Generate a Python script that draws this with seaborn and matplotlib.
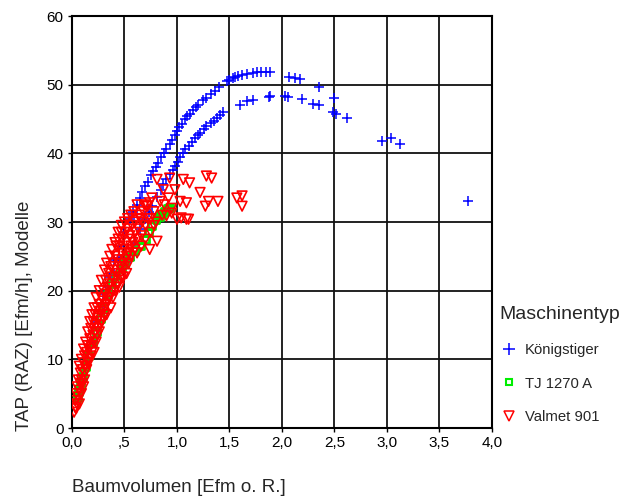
import matplotlib
matplotlib.use("Agg")
import matplotlib.pyplot as plt
from matplotlib.lines import Line2D
import seaborn as sns

# Königstiger (upper arc, lower arc, tail, points inside the dense band)
koenig_x = [0.30, 0.35, 0.40, 0.45, 0.50, 0.55, 0.58, 0.62, 0.65, 0.67, 0.70, 0.72, 0.75, 0.77,
            0.80, 0.82, 0.85, 0.88, 0.90, 0.93, 0.95, 0.98, 1.00, 1.02, 1.05, 1.08, 1.10, 1.12,
            1.15, 1.18, 1.20, 1.25, 1.28, 1.32, 1.36, 1.40, 1.48, 1.50, 1.53, 1.55, 1.58, 1.62,
            1.67, 1.72, 1.76, 1.80, 1.85, 1.89,
            2.07, 2.12, 2.17, 2.35, 2.50, 2.49, 2.51, 2.62, 2.95, 3.04, 3.12, 3.77,
            0.55, 0.60, 0.65, 0.70, 0.73, 0.76, 0.81, 0.85, 0.87, 0.90, 0.93, 0.96, 0.98, 1.01,
            1.03, 1.06, 1.08, 1.11, 1.14, 1.17, 1.20, 1.22, 1.26, 1.28, 1.32, 1.35, 1.38, 1.41,
            1.44, 1.60, 1.67, 1.72, 1.88, 1.89, 2.03, 2.06, 2.19, 2.30, 2.35,
            0.10, 0.15, 0.20, 0.25, 0.30, 0.35, 0.40, 0.45]
koenig_y = [19.5, 22.0, 24.5, 26.5, 28.5, 30.5, 31.5, 32.5, 33.5, 34.3, 35.2, 35.8, 36.8, 37.4,
            38.0, 38.6, 39.4, 40.0, 40.6, 41.3, 42.0, 42.6, 43.3, 43.8, 44.3, 45.0, 45.4, 45.8,
            46.3, 46.8, 47.1, 47.7, 48.1, 48.6, 49.1, 49.7, 50.5, 50.7, 50.9, 51.1, 51.2, 51.4,
            51.6, 51.7, 51.8, 51.8, 51.8, 51.8,
            51.1, 51.0, 50.8, 49.6, 48.1, 46.0, 45.8, 45.1, 41.8, 42.2, 41.4, 33.0,
            24.5, 27.0, 29.0, 30.5, 31.5, 32.3, 33.7, 34.7, 35.6, 36.2, 37.0, 37.6, 38.2, 38.8,
            39.5, 40.1, 40.7, 41.1, 41.7, 42.3, 42.7, 43.0, 43.6, 44.0, 44.4, 44.7, 45.2, 45.6,
            46.0, 47.0, 47.6, 47.8, 48.2, 48.4, 48.3, 48.2, 47.9, 47.2, 47.0,
            7.0, 10.0, 12.5, 15.5, 18.0, 20.5, 22.5, 24.8]

tj_x = [0.05, 0.06, 0.08, 0.10, 0.13, 0.16, 0.20, 0.23, 0.27, 0.30, 0.34, 0.38, 0.42, 0.47,
        0.50, 0.55, 0.60, 0.65, 0.70, 0.73, 0.76, 0.80, 0.83, 0.85, 0.88, 0.91, 0.93]
tj_y = [4.5, 5.3, 6.5, 7.5, 9.0, 10.5, 12.4, 14.0, 16.0, 17.5, 19.5, 21.0, 22.2, 23.3,
        24.0, 25.0, 25.8, 26.5, 27.5, 28.5, 29.5, 30.3, 30.8, 31.1, 31.5, 32.0, 32.1]

valmet_x = [0.02, 0.03, 0.03, 0.04, 0.04, 0.05, 0.05, 0.06, 0.06, 0.07, 0.08, 0.08, 0.09, 0.10,
            0.10, 0.11, 0.12, 0.12, 0.13, 0.14, 0.15, 0.15, 0.16, 0.17, 0.18, 0.18, 0.19, 0.20,
            0.20, 0.21, 0.22, 0.22, 0.23, 0.24, 0.25, 0.25, 0.26, 0.27, 0.28, 0.28, 0.29, 0.30,
            0.30, 0.31, 0.32, 0.32, 0.33, 0.34, 0.35, 0.35, 0.36, 0.37, 0.38, 0.38, 0.39, 0.40,
            0.40, 0.41, 0.42, 0.43, 0.44, 0.45, 0.45, 0.46, 0.47, 0.48, 0.48, 0.49, 0.50, 0.50,
            0.51, 0.52, 0.53, 0.54, 0.55, 0.56, 0.57, 0.58, 0.60, 0.60, 0.62, 0.63, 0.65, 0.66,
            0.68, 0.70, 0.72, 0.74, 0.75, 0.78, 0.81, 0.81, 0.84, 0.87, 0.90, 0.93, 0.95, 0.98,
            1.00, 1.03, 1.04, 1.06, 1.09, 1.09, 1.11, 1.12, 1.22, 1.27, 1.28, 1.30, 1.33, 1.39,
            1.57, 1.62, 1.62, 0.71, 0.74, 0.65, 0.44, 0.42, 0.47, 0.52, 0.57, 0.95, 0.88, 0.86,
            0.92, 0.80, 0.76,
            0.07, 0.09, 0.11, 0.12, 0.14, 0.16, 0.18, 0.21, 0.23, 0.24, 0.26, 0.27, 0.30, 0.31,
            0.33, 0.34, 0.36, 0.37, 0.39, 0.41, 0.43, 0.45, 0.47, 0.49, 0.50, 0.52, 0.54, 0.56,
            0.58, 0.60, 0.62, 0.07, 0.09, 0.11, 0.13, 0.15, 0.17, 0.19, 0.21, 0.23, 0.26, 0.28,
            0.31, 0.33, 0.36, 0.38, 0.41, 0.44, 0.47, 0.50, 0.53, 0.56, 0.59, 0.62, 0.64, 0.67,
            0.69, 0.72, 0.75, 0.78, 0.66, 0.70]
valmet_y = [2.3, 3.0, 4.0, 2.8, 5.0, 3.5, 6.0, 4.5, 7.0, 5.5, 6.5, 8.0, 7.0, 6.5,
            8.5, 9.5, 8.0, 10.5, 9.0, 11.0, 10.0, 12.0, 11.5, 13.0, 12.0, 14.5, 11.0, 13.5,
            15.5, 12.5, 14.0, 16.5, 15.0, 17.5, 14.5, 16.0, 18.0, 17.0, 19.0, 15.5, 17.5, 20.0,
            18.5, 16.5, 19.5, 21.5, 18.0, 20.5, 22.5, 19.0, 21.0, 23.5, 20.0, 22.0, 24.0, 21.5,
            23.0, 25.0, 20.5, 22.5, 24.5, 26.5, 23.5, 21.5, 25.5, 27.5, 23.0, 22.0, 26.0, 28.5,
            24.5, 27.0, 29.0, 25.5, 28.0, 26.5, 29.5, 27.0, 28.5, 30.0, 27.5, 29.0, 30.5, 28.0,
            31.5, 29.5, 32.3, 26.0, 30.5, 31.5, 27.2, 36.2, 33.0, 34.7, 30.9, 36.4, 31.3, 34.7,
            30.4, 33.0, 30.6, 36.2, 32.8, 30.4, 30.4, 35.7, 34.3, 32.3, 36.7, 33.0, 36.4, 33.0,
            33.5, 33.8, 32.3, 32.3, 32.8, 30.4, 27.5, 26.5, 28.5, 25.0, 27.5, 32.0, 32.5, 31.0,
            33.5, 30.0, 33.5,
            3.5, 5.0, 6.0, 7.0, 8.5, 9.5, 10.5, 11.0, 12.5, 13.5, 14.0, 15.0, 16.0, 17.5,
            16.5, 18.5, 19.0, 17.5, 19.0, 20.0, 21.0, 20.5, 22.0, 24.0, 23.5, 22.5, 24.0, 25.0,
            25.5, 26.0, 25.5, 9.0, 10.0, 11.5, 12.5, 14.0, 15.5, 16.5, 17.5, 19.0, 20.0, 21.5,
            23.0, 24.0, 25.0, 26.0, 27.0, 28.5, 29.5, 30.0, 30.5, 31.0, 31.5, 32.5, 31.0, 30.0,
            32.5, 30.5, 28.5, 29.5, 26.5, 27.5]

x_ticks = [0.0, 0.5, 1.0, 1.5, 2.0, 2.5, 3.0, 3.5, 4.0]
x_tick_labels = ["0,0", ",5", "1,0", "1,5", "2,0", "2,5", "3,0", "3,5", "4,0"]
y_ticks = [0, 10, 20, 30, 40, 50, 60]

sns.set_theme(style="white")
plt.rcParams["font.family"] = ["Liberation Sans", "DejaVu Sans"]

fig = plt.figure(figsize=(6.2, 5), dpi=100)
ax = fig.add_axes([0.1161, 0.144, 0.6774, 0.824])

blue, green, red = "#0000ff", "#00ee00", "#ff0000"
sns.scatterplot(x=koenig_x, y=koenig_y, ax=ax, marker="+", color=blue, s=50,
                linewidth=1.1, legend=False, zorder=3)
sns.scatterplot(x=tj_x, y=tj_y, ax=ax, marker="s", s=24, facecolors="none",
                edgecolors=green, linewidth=2.0, legend=False, zorder=4)
sns.scatterplot(x=valmet_x, y=valmet_y, ax=ax, marker="v", s=48, facecolors="none",
                edgecolors=red, linewidth=1.2, legend=False, zorder=5)

ax.set_xlim(0, 4)
ax.set_ylim(0, 60)
ax.set_xticks(x_ticks)
ax.set_xticklabels(x_tick_labels)
ax.set_yticks(y_ticks)
ax.grid(True, color="#111111", linewidth=1.3)
ax.set_axisbelow(True)
for sp in ax.spines.values():
    sp.set_color("black")
    sp.set_linewidth(1.5)
ax.tick_params(axis="both", direction="out", length=3, width=1, colors="black",
               labelsize=11, pad=3, bottom=True, left=True)
ax.set_xlabel("")
ax.set_ylabel("")

fig.text(0.116, 0.024, "Baumvolumen [Efm o. R.]", fontsize=13.5, ha="left", va="center")
fig.text(0.039, 0.368, "TAP (RAZ) [Efm/h], Modelle", fontsize=13.5, rotation=90,
         ha="center", va="center")

handles = [
    Line2D([], [], linestyle="none", marker="+", color=blue, markersize=8, mew=1.1),
    Line2D([], [], linestyle="none", marker="s", markerfacecolor="none",
           markeredgecolor=green, markersize=5, mew=1.5),
    Line2D([], [], linestyle="none", marker="v", markerfacecolor="none",
           markeredgecolor=red, markersize=7, mew=1.1),
]
leg = fig.legend(handles, ["Königstiger", "TJ 1270 A", "Valmet 901"],
                 title="Maschinentyp", loc="upper left", bbox_to_anchor=(0.806, 0.388),
                 frameon=False, fontsize=10.7, title_fontsize=14, labelspacing=1.33,
                 handletextpad=0.5, handlelength=1.2, borderaxespad=0, borderpad=0)
leg._legend_box.align = "left"

fig.savefig("out.png", dpi=100)
